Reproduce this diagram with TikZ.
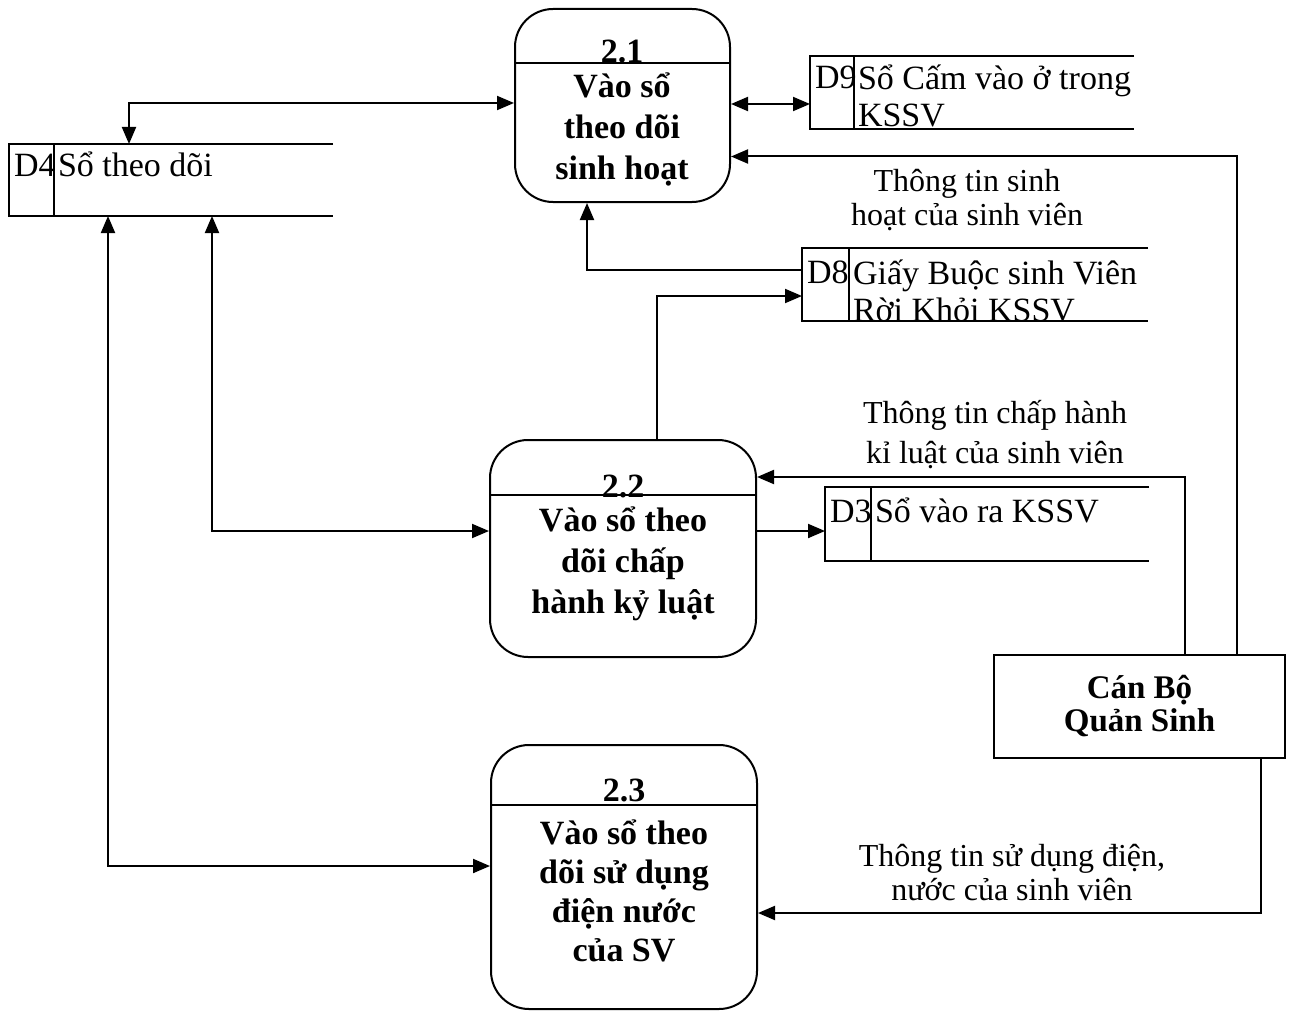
\documentclass[tikz,border=0pt]{standalone}
\usepackage{fontspec}
\setmainfont{Liberation Serif}
\usetikzlibrary{arrows.meta,calc}

\begin{document}
\begin{tikzpicture}[x=1pt,y=-1pt,line width=2pt,
  proc/.style={draw,rounded corners=38pt,inner sep=0pt},
  ext/.style={draw,inner sep=0pt},
  store/.style={inner sep=0pt},
  ptitle/.style={font=\fontsize{34}{41}\selectfont\bfseries,inner sep=0pt,anchor=base},
  ptext/.style={font=\fontsize{34}{41}\selectfont\bfseries,align=center,inner sep=0pt},
  sid/.style={font=\fontsize{34}{38}\selectfont,inner sep=0pt,anchor=base west},
  stext/.style={font=\fontsize{34}{37}\selectfont,inner sep=0pt,anchor=base west,align=left},
  lbl/.style={font=\fontsize{32}{34}\selectfont,align=center,inner sep=0pt},
  flow/.style={-{Triangle[length=17pt,width=14pt]}},
  bflow/.style={{Triangle[length=17pt,width=14pt]}-{Triangle[length=17pt,width=14pt]}},
]
\useasboundingbox (0,0) rectangle (1292,1011);

% processes
\node[proc,minimum width=215pt,minimum height=193pt] (p1) at (622.5,105.5) {};
\node[proc,minimum width=266pt,minimum height=217pt] (p2) at (623,548.5) {};
\node[proc,minimum width=266pt,minimum height=264pt] (p3) at (624,877) {};

\node[ptitle] (t1) at (622,62.5) {2.1};
\node[ptext] (b1) at (622,129) {Vào sổ\\theo dõi\\sinh hoạt};
\node[ptitle] (t2) at (623,497) {2.2};
\node[ptext] (b2) at (623,564) {Vào sổ theo\\dõi chấp\\hành kỷ luật};
\node[ptitle] (t3) at (624,801) {2.3};
\node[ptext,font=\fontsize{34}{39}\selectfont\bfseries] (b3) at (624,891) {Vào sổ theo\\dõi sử dụng\\điện nước\\của SV};

\draw (p1.west |- 0,63) -- (p1.east |- 0,63);
\draw (p2.west |- 0,495) -- (p2.east |- 0,495);
\draw (p3.west |- 0,805) -- (p3.east |- 0,805);

% external entity
\node[ext,minimum width=291pt,minimum height=103pt] (cb) at (1139.5,706.5) {};
\node[ptext,font=\fontsize{33}{33}\selectfont\bfseries] (cbt) at (1139.5,706) {Cán Bộ\\Quản Sinh};

% data stores
\node[store,minimum width=322pt,minimum height=70pt] (d4) at (171,180) {};
\node[store,minimum width=322pt,minimum height=71pt] (d9) at (972,92.5) {};
\node[store,minimum width=344pt,minimum height=71pt] (d8) at (975,284.5) {};
\node[store,minimum width=322pt,minimum height=72pt] (d3) at (987,524) {};

\foreach \s/\w in {d4/45,d9/44,d8/47,d3/46}{
  \draw (\s.north east) -- (\s.north west) -- (\s.south west) -- (\s.south east);
  \draw ($(\s.north west)+(\w,0)$) -- ($(\s.south west)+(\w,0)$);
}

\node[sid] (d4id) at (13,177) {D4};
\node[stext] (d4n) at (57,177) {Sổ theo dõi};
\node[sid] (d9id) at (814,89) {D9};
\node[stext] (d9n) at (857,127) {Sổ Cấm vào ở trong\\KSSV};
\node[sid] (d8id) at (806,283) {D8};
\node[stext] (d8n) at (852,321) {Giấy Buộc sinh Viên\\Rời Khỏi KSSV};
\node[sid] (d3id) at (829,522) {D3};
\node[stext] (d3n) at (874,522) {Sổ vào ra KSSV};

% flows
\draw[bflow] ([yshift=2.5pt]p1.west) -| ([xshift=-42pt]d4.north);
\draw[bflow] ([yshift=1.5pt]p1.east) -- ([yshift=-11.5pt]d9.west);
\draw[flow] ([xshift=97.5pt]cb.north) |- ([yshift=-51pt]p1.east);
\draw[flow] ([yshift=14.5pt]d8.west) -| ([xshift=-35.5pt]p1.south);
\draw[flow] ([xshift=34pt]p2.north) |- ([yshift=-11.5pt]d8.west);
\draw[flow] ([xshift=45.5pt]cb.north) |- ([yshift=71.5pt]p2.east);
\draw[flow] ([yshift=17.5pt]p2.east) -- ([yshift=-7pt]d3.west);
\draw[bflow] ([xshift=41pt]d4.south) |- ([yshift=17.5pt]p2.west);
\draw[bflow] ([xshift=-63pt]d4.south) |- ([yshift=11pt]p3.west);
\draw[flow] ([xshift=121pt]cb.south) |- ([yshift=-36pt]p3.east);

% flow labels
\node[lbl] (l1) at (967,200) {Thông tin sinh\\hoạt của sinh viên};
\node[lbl,font=\fontsize{32}{40}\selectfont] (l2) at (995,435) {Thông tin chấp hành\\kỉ luật của sinh viên};
\node[lbl] (l3) at (1012,873) {Thông tin sử dụng điện,\\nước của sinh viên};
\end{tikzpicture}
\end{document}
